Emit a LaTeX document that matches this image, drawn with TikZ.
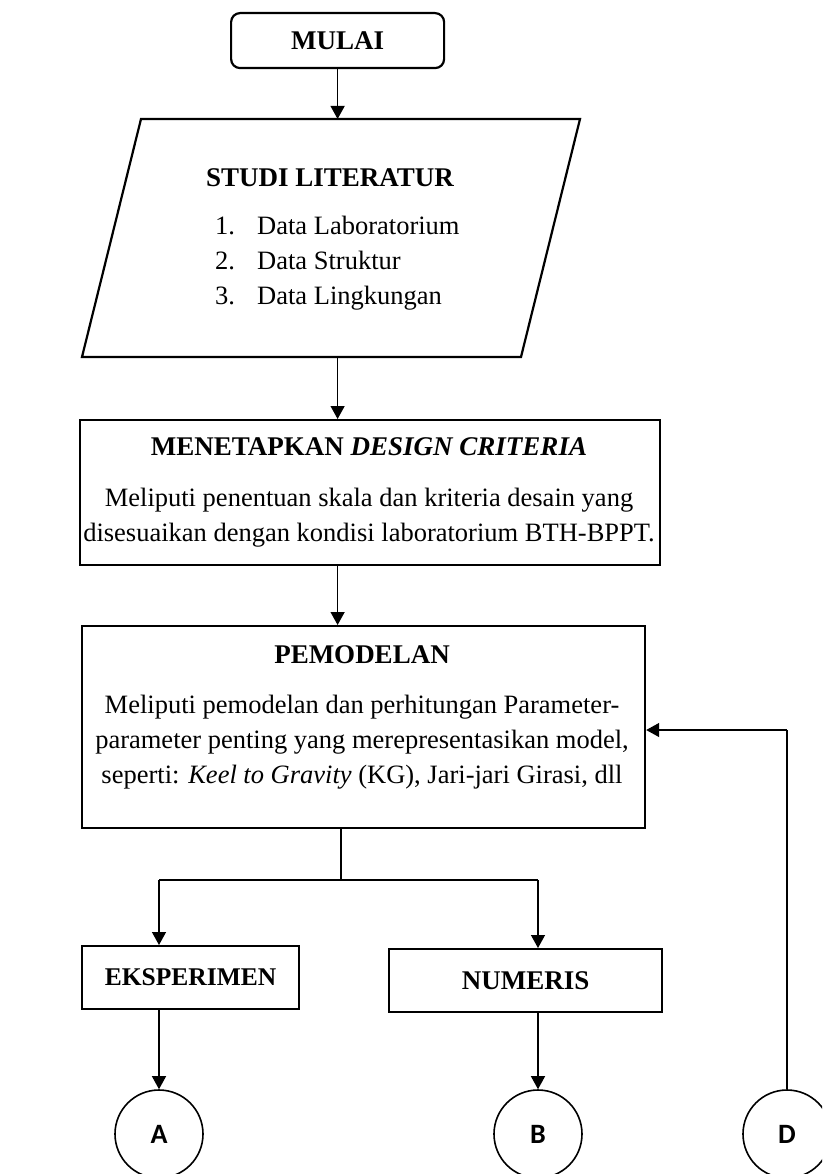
\documentclass[tikz,border=0pt]{standalone}
\usepackage{fontspec}
\setmainfont{Liberation Serif}
\newfontfamily\circfont{Carlito}
\usetikzlibrary{arrows.meta}
\begin{document}
\begin{tikzpicture}[x=1pt,y=-1pt,
  box/.style={draw, line width=2.2pt, inner sep=0pt, anchor=north west},
  conn/.style={line width=1.3pt},
  arr/.style={conn, -{Triangle[width=14pt,length=13pt]}},
  txt/.style={font=\fontsize{26.5}{31}\selectfont, inner sep=0pt},
  ttl/.style={font=\fontsize{27}{31}\selectfont\bfseries, inner sep=0pt},
  conn2/.style={draw, circle, line width=1.6pt, minimum size=88pt, inner sep=0pt, font=\circfont\bfseries\fontsize{28}{30}\selectfont}]
\useasboundingbox (0,0) rectangle (822,1174);
\clip (0,0) rectangle (822,1174);
% start
\node[box, rounded corners=9pt, minimum width=213pt, minimum height=55pt] (mulai) at (230,12) {};
\node[ttl] (tmulai) at (mulai.center) {MULAI};
% literature parallelogram
\coordinate (pTL) at (141,119);
\coordinate (pTR) at (580,119);
\coordinate (pBR) at (521,357);
\coordinate (pBL) at (82,357);
\draw[line width=2.2pt] (pTL) -- (pTR) -- (pBR) -- (pBL) -- cycle;
\coordinate (litTop) at (mulai.south |- pTL);
\coordinate (litBot) at (mulai.south |- pBL);
\node[ttl] (tlit) at (330,178) {STUDI LITERATUR};
\node[txt, anchor=mid west] (n1) at (215,232) {1.};
\node[txt, anchor=mid west] (i1) at (257,232) {Data Laboratorium};
\node[txt, anchor=mid west] (n2) at (215,267) {2.};
\node[txt, anchor=mid west] (i2) at (257,267) {Data Struktur};
\node[txt, anchor=mid west] (n3) at (215,302) {3.};
\node[txt, anchor=mid west] (i3) at (257,302) {Data Lingkungan};
% design criteria
\node[box, minimum width=580pt, minimum height=145pt] (design) at (79,419) {};
\node[ttl] (tdes) at (369,447) {MENETAPKAN \textit{DESIGN CRITERIA}};
\node[txt] (d1) at (369,500) {Meliputi penentuan skala dan kriteria desain yang};
\node[txt] (d2) at (369,535) {disesuaikan dengan kondisi laboratorium BTH-BPPT.};
% pemodelan
\node[box, minimum width=563pt, minimum height=202pt] (pem) at (81,625) {};
\node[ttl] (tpem) at (362,655) {PEMODELAN};
\node[txt] (p1) at (362,707) {Meliputi pemodelan dan perhitungan Parameter-};
\node[txt] (p2) at (362,742) {parameter penting yang merepresentasikan model,};
\node[txt] (p3) at (362,777) {seperti: \textit{Keel to Gravity} (KG), Jari-jari Girasi, dll};
% branches
\node[box, minimum width=217pt, minimum height=63pt] (eks) at (81,945) {};
\node[ttl, font=\fontsize{25.5}{30}\selectfont\bfseries] (teks) at (eks.center) {EKSPERIMEN};
\node[box, minimum width=273pt, minimum height=63pt] (num) at (388,948) {};
\node[ttl] (tnum) at (num.center) {NUMERIS};
% off-page connectors
\node[conn2] (cA) at (159,1134) {A};
\node[conn2] (cB) at (538,1134) {B};
\node[conn2] (cD) at (787,1134) {D};
\coordinate (j1) at (341,880);
\coordinate (jl) at (159,880);
\coordinate (jr) at (538,880);
\coordinate (fb) at (787,730);
% connectors
\draw[arr] (mulai.south) -- (litTop);
\draw[arr] (litBot) -- (litBot |- design.north);
\draw[arr] (litBot |- design.south) -- (litBot |- pem.north);
\draw[conn] (j1 |- pem.south) -- (j1);
\draw[conn] (jl) -- (jr);
\draw[arr] (jl) -- (jl |- eks.north);
\draw[arr] (jr) -- (jr |- num.north);
\draw[arr] (jl |- eks.south) -- (cA.north);
\draw[arr] (jr |- num.south) -- (cB.north);
\draw[conn] (cD.north) -- (fb);
\draw[arr] (fb) -- (fb -| pem.east);
\end{tikzpicture}
\end{document}
